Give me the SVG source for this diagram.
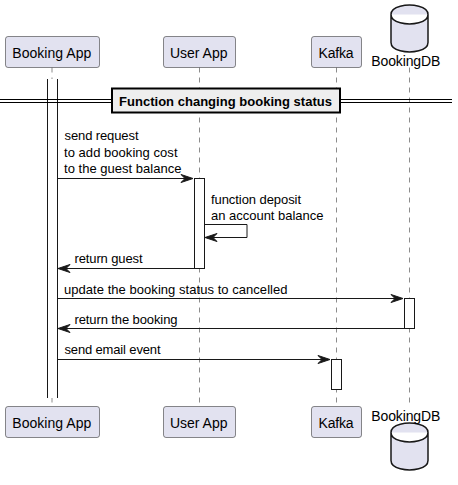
<svg xmlns="http://www.w3.org/2000/svg" width="458" height="485" viewBox="0 0 458 485">
<style>
text{font-family:"Liberation Sans",Arial,sans-serif;fill:#000}
.n{font-size:14px}
.m{font-size:13px}
.b{fill:#E2E2F0;stroke:#181818;stroke-width:.5}
.d{fill:#E2E2F0;stroke:#181818;stroke-width:1.5}
.l{stroke:#181818;stroke-width:.5;stroke-dasharray:5 5;fill:none}
.a{fill:#fff;stroke:#181818;stroke-width:1}
.c{stroke:#181818;stroke-width:1;fill:none}
.h{fill:#181818;stroke:#181818;stroke-width:1}
</style>
<defs>
<path id="cyl" d="M391 14.5C391 5 409.500 5 409.500 5S428 5 428 14.500V42.500C428 52 409.500 52 409.500 52S391 52 391 42.500ZM391 14.500C391 24 409.500 24 409.500 24S428 24 428 14.500"/>
</defs>
<rect width="458" height="485" fill="#fff"/>
<g id="lifelines">
<path class="l" d="M52 67.500V406.500"/>
<path class="l" d="M199.500 67.500V406.500"/>
<path class="l" d="M336.500 67.500V406.500"/>
<path class="l" d="M409.500 67.500V406.500"/>
</g>
<g id="activations">
<rect x="47.500" y="79" width="10" height="319" fill="#fff"/>
<path class="c" d="M47.500 79V398M57.500 79V398"/>
<rect class="a" x="194.500" y="178.500" width="10" height="90"/>
<rect class="a" x="404.500" y="298.500" width="10" height="30"/>
<rect class="a" x="331.500" y="359.500" width="10" height="30"/>
</g>
<g id="divider">
<path d="M0 99.500H112M0 102.500H112M340 99.500H452M340 102.500H452" stroke="#000" stroke-width="1" fill="none"/>
<rect x="112" y="88.500" width="228" height="24" fill="#EEEEEE" stroke="#000" stroke-width="2"/>
<text x="119" y="106" font-size="13" font-weight="700" textLength="213">Function changing booking status</text>
</g>
<g id="connectors">
<path class="c" d="M57.500 178.500H190"/><path class="h" d="M181 174.500L193 178.500L181 182.500L185 178.500Z"/>
<path class="c" d="M204.500 224.500H247V237.500H206"/><path class="h" d="M217 233.500L205 237.500L217 241.500L213 237.500Z"/>
<path class="c" d="M60 268.500H194.500"/><path class="h" d="M70 264.500L58 268.500L70 272.500L66 268.500Z"/>
<path class="c" d="M57.500 298.500H401"/><path class="h" d="M391 294.500L403 298.500L391 302.500L395 298.500Z"/>
<path class="c" d="M60 328.500H404.500"/><path class="h" d="M70 324.500L58 328.500L70 332.500L66 328.500Z"/>
<path class="c" d="M57.500 359.500H328"/><path class="h" d="M318 355.500L330 359.500L318 363.500L322 359.500Z"/>
<text class="m" x="64.500" y="140" textLength="74">send request</text>
<text class="m" x="64" y="157" textLength="113.500">to add booking cost</text>
<text class="m" x="64" y="173" textLength="117.500">to the guest balance</text>
<text class="m" x="211" y="204" textLength="90">function deposit</text>
<text class="m" x="211" y="220" textLength="112.500">an account balance</text>
<text class="m" x="74.500" y="263" textLength="68">return guest</text>
<text class="m" x="64" y="294" textLength="223.500">update the booking status to cancelled</text>
<text class="m" x="74.500" y="324" textLength="103">return the booking</text>
<text class="m" x="64.500" y="354" textLength="96">send email event</text>
</g>
<g id="node-booking-app-top"><rect class="b" x="5.500" y="36.500" width="94" height="31" rx="2.500"/><text class="n" x="12.300" y="58" textLength="79">Booking App</text></g>
<g id="node-user-app-top"><rect class="b" x="163.500" y="36.500" width="72" height="31" rx="2.500"/><text class="n" x="170" y="58" textLength="57.500">User App</text></g>
<g id="node-kafka-top"><rect class="b" x="311.500" y="36.500" width="50" height="31" rx="2.500"/><text class="n" x="318.500" y="58" textLength="35">Kafka</text></g>
<g id="node-bookingdb-top"><use href="#cyl" class="d"/><text class="n" x="371.300" y="66" textLength="69">BookingDB</text></g>
<g id="node-booking-app-bottom"><rect class="b" x="5.500" y="406.500" width="94" height="31" rx="2.500"/><text class="n" x="12.300" y="428" textLength="79">Booking App</text></g>
<g id="node-user-app-bottom"><rect class="b" x="163.500" y="406.500" width="72" height="31" rx="2.500"/><text class="n" x="170" y="428" textLength="57.500">User App</text></g>
<g id="node-kafka-bottom"><rect class="b" x="311.500" y="406.500" width="50" height="31" rx="2.500"/><text class="n" x="318.500" y="428" textLength="35">Kafka</text></g>
<g id="node-bookingdb-bottom"><use href="#cyl" class="d" y="418"/><text class="n" x="371.300" y="421" textLength="69">BookingDB</text></g>
</svg>
